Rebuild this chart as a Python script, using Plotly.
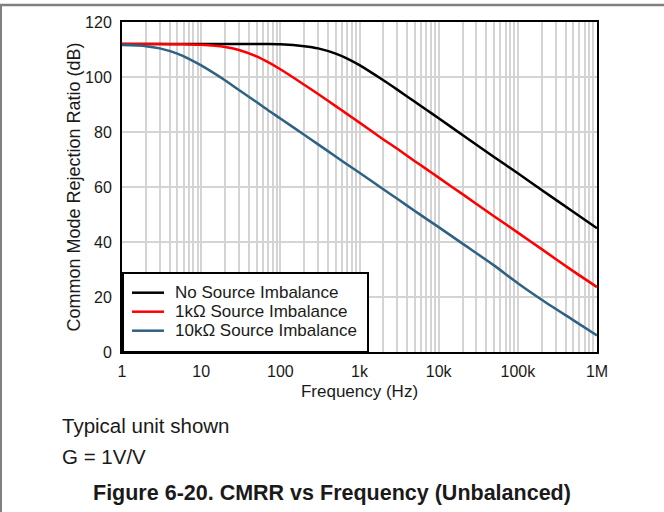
import plotly.graph_objects as go

freq = [1, 2, 3, 5, 7, 10, 20, 30, 50, 70, 100, 200, 300, 500, 700,
        1000, 2000, 3000, 5000, 7000, 10000, 20000, 50000, 100000,
        200000, 500000, 1000000]
no_imbalance = [112.0, 112.0, 112.0, 112.0, 112.0, 112.0, 112.0, 112.0, 112.0, 112.0,
                111.9, 111.2, 110.4, 108.5, 106.7, 104.3, 98.8, 95.4, 91.0, 88.1,
                85.0, 78.9, 70.9, 65.0, 58.9, 51.0, 45.0]
imb_1k = [112.0, 112.0, 112.0, 111.9, 111.85, 111.7, 110.9, 109.8, 107.5, 105.4,
          102.8, 97.2, 93.8, 89.4, 86.5, 83.4, 77.3, 73.9, 69.4, 66.5,
          63.4, 57.4, 49.4, 43.4, 37.4, 29.4, 23.6]
imb_10k = [111.6, 111.2, 110.4, 108.5, 106.6, 104.2, 98.8, 95.3, 90.9, 87.9,
           84.9, 79.0, 75.5, 71.1, 68.2, 65.2, 59.2, 55.7, 51.3, 48.4,
           45.4, 39.4, 31.5, 25.0, 19.0, 11.6, 6.0]

series_names = ["No Source Imbalance", "1kΩ Source Imbalance", "10kΩ Source Imbalance"]
series_colors = ["#000000", "#ff0000", "#2f6282"]
series_values = [no_imbalance, imb_1k, imb_10k]

x_tickvals = [1, 10, 100, 1000, 10000, 100000, 1000000]
x_ticktext = ["1", "10", "100", "1k", "10k", "100k", "1M"]
y_tickvals = [0, 20, 40, 60, 80, 100, 120]

minor_vals = [m * 10 ** d for d in range(6) for m in range(2, 10)]

FONT = "Liberation Sans, Arial, sans-serif"
TXT = "#1a1a1a"

fig = go.Figure()
for name, color, vals in zip(series_names, series_colors, series_values):
    fig.add_trace(go.Scatter(x=freq, y=vals, mode="lines", name=name, showlegend=False,
                             line=dict(color=color, width=2.5, shape="spline", smoothing=0.6)))

fig.update_layout(
    width=664, height=512,
    margin=dict(l=122, r=67, t=22, b=160),
    paper_bgcolor="white", plot_bgcolor="white",
    font=dict(family=FONT, color=TXT, size=16),
    showlegend=False,
    xaxis=dict(type="log", range=[0, 6], tickvals=x_tickvals, ticktext=x_ticktext,
               showgrid=True, gridcolor="#d4d4d4", gridwidth=2,
               minor=dict(tickvals=minor_vals, showgrid=True, gridcolor="#d4d4d4", gridwidth=2, ticks=""),
               showline=True, linecolor="black", linewidth=2, mirror=True,
               ticks="", zeroline=False, ticklabelstandoff=4,
               title=dict(text="Frequency (Hz)", font=dict(size=17, family=FONT, color=TXT), standoff=6),
               tickfont=dict(size=16, family=FONT, color=TXT)),
    yaxis=dict(range=[0, 120], tickvals=y_tickvals,
               showgrid=True, gridcolor="#d4d4d4", gridwidth=2,
               showline=True, linecolor="black", linewidth=2, mirror=True,
               ticks="", zeroline=False, ticklabelstandoff=5,
               title=dict(text="Common Mode Rejection Ratio (dB)", font=dict(size=18, family=FONT, color=TXT), standoff=0),
               tickfont=dict(size=16, family=FONT, color=TXT)),
)

W, H = 475.0, 330.0
def px(x):
    return (x - 122) / W
def py(y):
    return (352 - y) / H

# outer frame (gray lines at top and left)
fig.add_shape(type="line", xref="paper", yref="paper", x0=px(0), x1=px(664), y0=py(5), y1=py(5),
              line=dict(color="#808080", width=2.5))
fig.add_shape(type="line", xref="paper", yref="paper", x0=px(1), x1=px(1), y0=py(5), y1=py(512),
              line=dict(color="#808080", width=2))

# legend box
fig.add_shape(type="rect", xref="paper", yref="paper", x0=px(123), x1=px(368), y0=py(352), y1=py(273),
              fillcolor="white", line=dict(color="black", width=2), layer="above")
leg_y = [292.7, 311.7, 330.7]
for name, color, yy in zip(series_names, series_colors, leg_y):
    fig.add_shape(type="line", xref="paper", yref="paper", x0=px(132), x1=px(164), y0=py(yy), y1=py(yy),
                  line=dict(color=color, width=2.5), layer="above")
    fig.add_annotation(text=name, xref="paper", yref="paper", x=px(173), y=py(yy),
                       xanchor="left", yanchor="middle", showarrow=False,
                       font=dict(size=17, family=FONT, color=TXT))

fig.add_annotation(text="Typical unit shown", xref="paper", yref="paper", x=px(60), y=py(425),
                   xanchor="left", yanchor="middle", showarrow=False,
                   font=dict(size=20.5, family=FONT, color=TXT))
fig.add_annotation(text="G = 1V/V", xref="paper", yref="paper", x=px(60), y=py(456),
                   xanchor="left", yanchor="middle", showarrow=False,
                   font=dict(size=20.5, family=FONT, color=TXT))
fig.add_annotation(text="<b>Figure 6-20. CMRR vs Frequency (Unbalanced)</b>", xref="paper", yref="paper",
                   x=px(332), y=py(493), xanchor="center", yanchor="middle", showarrow=False,
                   font=dict(size=21.5, family=FONT, color=TXT))

fig.write_html("out.html")
